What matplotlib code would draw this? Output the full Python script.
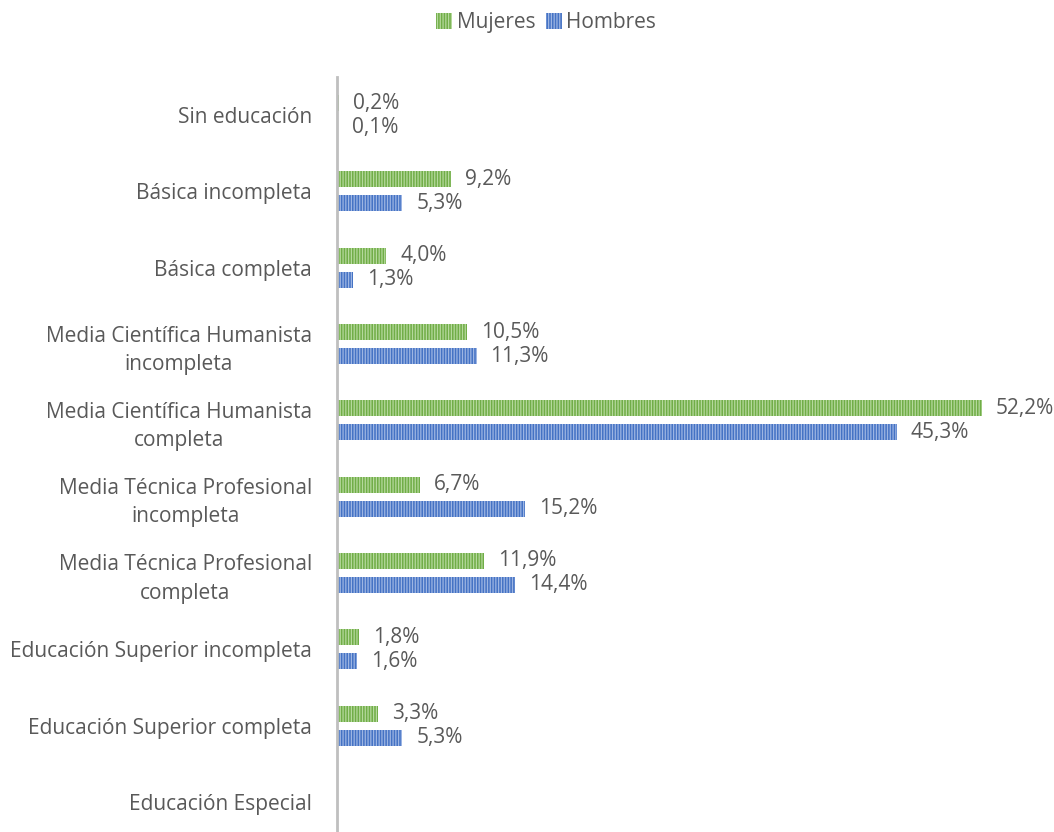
import numpy as np
import matplotlib.pyplot as plt

plt.rcParams['font.family'] = ['Open Sans', 'DejaVu Sans']
plt.rcParams['hatch.linewidth'] = 0.9

categorias = ['Sin educación', 'Básica incompleta', 'Básica completa',
              'Media Científica Humanista\nincompleta',
              'Media Científica Humanista\ncompleta',
              'Media Técnica Profesional\nincompleta',
              'Media Técnica Profesional\ncompleta',
              'Educación Superior incompleta',
              'Educación Superior completa',
              'Educación Especial']
mujeres = [0.2, 9.2, 4.0, 10.5, 52.2, 6.7, 11.9, 1.8, 3.3, None]
hombres = [0.1, 5.3, 1.3, 11.3, 45.3, 15.2, 14.4, 1.6, 5.3, None]

verde, verde_claro = '#70AD47', '#B5D99C'
azul, azul_claro = '#4472C4', '#9DB5E3'
gris_txt = '#595959'
fs = 15

fig = plt.figure(figsize=(10.54, 8.32), dpi=100)
ax = fig.add_axes([337/1054, -8/832, 0.68, 763/832])

y = np.arange(len(categorias))
off, h = 0.157, 0.21

def barras(vals, dy, fc, hc, label):
    for i, v in enumerate(vals):
        if v is None:
            continue
        ax.barh(y[i] + dy, v, height=h, color=fc, edgecolor=hc, linewidth=0,
                hatch='||||||', label=label if i == 0 else None)
        ax.annotate(f'{v:.1f}%'.replace('.', ','), (v, y[i] + dy),
                    xytext=(10, 0), textcoords='offset points',
                    va='center', ha='left', fontsize=fs, color=gris_txt)

barras(mujeres, -off, verde, verde_claro, 'Mujeres')
barras(hombres, off, azul, azul_claro, 'Hombres')

ax.set_ylim(len(categorias) - 0.5, -0.5)
ax.set_xlim(0, 58)
ax.set_yticks(y)
ax.set_yticklabels(categorias, fontsize=fs, color=gris_txt, linespacing=1.45)
for lab in ax.get_yticklabels():
    lab.set_multialignment('center')
ax.tick_params(axis='y', length=0, pad=18)
ax.set_xticks([])
for s in ['top', 'right', 'bottom']:
    ax.spines[s].set_visible(False)
ax.spines['left'].set_color('#BFBFBF')
ax.spines['left'].set_linewidth(2)

fig.legend(loc='upper center', bbox_to_anchor=(0.518, 1.008), ncol=2, frameon=False,
           fontsize=fs, labelcolor=gris_txt, handlelength=0.8, handleheight=0.8,
           handletextpad=0.2, columnspacing=0.5)

fig.savefig('out.png', dpi=100)
